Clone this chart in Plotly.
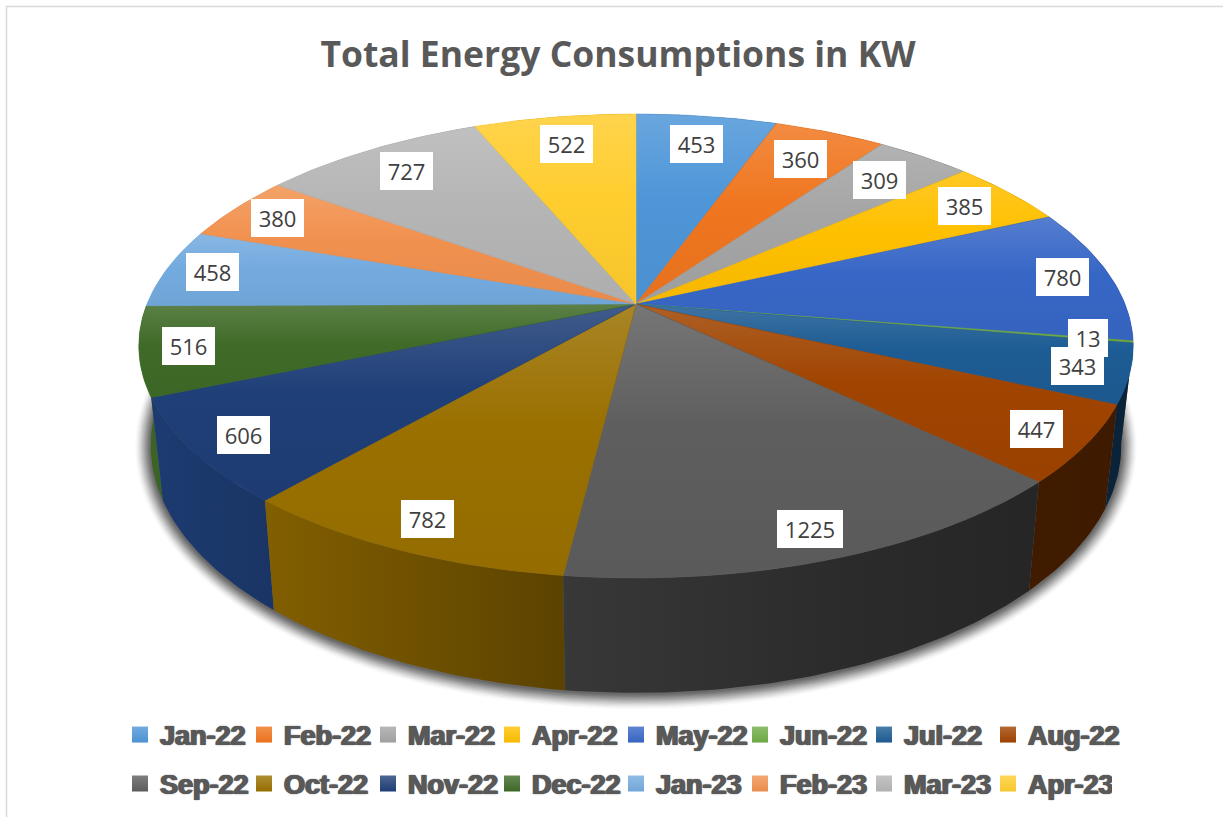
import numpy as np
import plotly.graph_objects as go

months = ["Jan-22", "Feb-22", "Mar-22", "Apr-22", "May-22", "Jun-22", "Jul-22", "Aug-22",
          "Sep-22", "Oct-22", "Nov-22", "Dec-22", "Jan-23", "Feb-23", "Mar-23", "Apr-23"]
consumption = [453, 360, 309, 385, 780, 13, 343, 447, 1225, 782, 606, 516, 458, 380, 727, 522]
colors = ["#4E96D8", "#F0761F", "#A5A5A5", "#FFC000", "#3767C6", "#70AD47", "#1D5C94", "#A04400",
          "#5E5E5E", "#9A7000", "#1F3F78", "#3F6A27", "#74ABDF", "#F1914F", "#B5B5B5", "#FFCD2E"]
label_radius = [.83, .825, .827, .869, .90, .911, .90, .899, .90, .893, .897, .904, .901, .888, .845, .835]
title_text = "Total Energy Consumptions in KW"

# perspective of the pie disc, in axis units (the axes span the page)
CX, CY, A, B, K = 636.0, 304.0, 489.0, 224.4, 0.181
X_SCALE, Y_SCALE, Y_SHIFT = 0.976, 1.065, 77.3
W, H = 1223, 817


def project(theta, r=1.0):
    u, v = r * np.sin(theta), r * np.cos(theta)
    w = 1 + K * v
    return CX + A * u / w, CY - B * v / w


def lower(x, y):
    return CX + X_SCALE * (x - CX), Y_SCALE * y + Y_SHIFT


def rgb(hexcol):
    return np.array([int(hexcol[i:i + 2], 16) for i in (1, 3, 5)], float)


def css(c):
    return "rgb(%d,%d,%d)" % tuple(np.clip(np.round(c), 0, 255))


def mix_white(hexcol, f):
    c = rgb(hexcol)
    return css(c + (255 - c) * f)


total = sum(consumption)
edges = np.cumsum([0] + consumption) / total * 2 * np.pi
fig = go.Figure()

# soft shadow under the disc
t_all = np.linspace(0, 2 * np.pi, 361)
sx, sy = lower(*project(t_all))
bcx, bcy = CX, 0.5 * (sy.min() + sy.max())
for n, d in enumerate(np.arange(16, 0, -1.0)):
    alpha = 0.012 + 0.0075 * n
    px = bcx + (sx - bcx) * (1 + d / 485)
    py = bcy + (sy - bcy) * (1 + d / 250) + 1
    fig.add_trace(go.Scatter(x=px, y=py, mode="lines", line=dict(width=0), fill="toself",
                             fillcolor=f"rgba(40,40,40,{alpha:.3f})", hoverinfo="skip", showlegend=False))

# side walls, rear ones first
shade_x = np.array([138, 270, 560, 850, 1030, 1133], float)
shade_f = np.array([.95, .84, .60, .46, .40, .38])
order = sorted(range(len(months)), key=lambda i: project((edges[i] + edges[i + 1]) / 2)[1])
for i in order:
    t = np.linspace(edges[i], edges[i + 1], max(2, int(np.degrees(edges[i + 1] - edges[i])) + 2))
    tx, ty = project(t)
    bx, by = lower(tx, ty)
    base = rgb(colors[i])
    stops = [[(s - 138) / (1133 - 138), css(base * f)] for s, f in zip(shade_x, shade_f)]
    fig.add_trace(go.Scatter(
        x=np.r_[tx, bx[::-1]], y=np.r_[ty, by[::-1]], mode="lines", line=dict(width=0),
        fill="toself", hoverinfo="skip", showlegend=False,
        fillgradient=dict(type="horizontal", start=138, stop=1133, colorscale=stops)))

# top faces
for i, name in enumerate(months):
    t = np.linspace(edges[i], edges[i + 1], max(2, int(np.degrees(edges[i + 1] - edges[i])) + 2))
    tx, ty = project(t)
    px = np.r_[CX, tx, CX]
    py = np.r_[CY, ty, CY]
    fig.add_trace(go.Scatter(
        x=px, y=py, mode="lines", line=dict(width=0.5, color=colors[i]), fill="toself",
        name=name, showlegend=False, text=f"{name}: {consumption[i]}", hoverinfo="text",
        fillgradient=dict(type="vertical", start=float(py.min()), stop=float(py.max()),
                          colorscale=[[0, mix_white(colors[i], .15)], [.45, colors[i]],
                                      [1, css(rgb(colors[i]) * .96)]])))

# legend entries
for i, name in enumerate(months):
    fig.add_trace(go.Scatter(
        x=[None], y=[None], mode="markers", name=name, legend="legend" if i < 8 else "legend2",
        marker=dict(symbol="square", size=16, color=mix_white(colors[i], .2), line=dict(width=0),
                    gradient=dict(type="vertical", color=css(rgb(colors[i]) * .97)))))

# data labels
for i, val in enumerate(consumption):
    mid = (edges[i] + edges[i + 1]) / 2
    lx, ly = project(mid, label_radius[i])
    fig.add_annotation(x=lx, y=ly, text=str(val), showarrow=False, bgcolor="white", borderpad=0,
                       borderwidth=0, width=13 * len(str(val)) + 14, height=38,
                       font=dict(family="Open Sans", size=22, color="#404040"))

legend_font = dict(family="Liberation Sans", size=27, weight=700, color="#595959",
                   shadow="1px 0 #595959, -1px 0 #595959, 0 0 2px #a0a0a0")
legend_common = dict(orientation="h", xanchor="left", yanchor="middle", bgcolor="rgba(0,0,0,0)",
                     borderwidth=0, itemwidth=30, entrywidth=79, entrywidthmode="pixels",
                     font=legend_font, itemclick=False, itemdoubleclick=False, traceorder="normal")

fig.update_layout(
    width=W, height=H, margin=dict(l=0, r=0, t=0, b=0), paper_bgcolor="white", plot_bgcolor="white",
    title=dict(text=title_text, x=618 / W, xanchor="center", y=1 - 55 / H, yanchor="middle",
               font=dict(family="Open Sans", size=35.5, weight=700, color="#595959")),
    xaxis=dict(range=[0, W], visible=False, fixedrange=True),
    yaxis=dict(range=[H, 0], visible=False, fixedrange=True),
    legend=dict(x=120 / W, y=1 - 735 / H, **legend_common),
    legend2=dict(x=120 / W, y=1 - 784 / H, **legend_common),
    shapes=[dict(type="line", xref="x", yref="y", x0=6.5, x1=6.5, y0=6, y1=H, line=dict(color="#d9d9d9", width=1.5)),
            dict(type="line", xref="x", yref="y", x0=6, x1=W, y0=6.5, y1=6.5, line=dict(color="#d9d9d9", width=1.5))],
)

fig.write_html("out.html", config=dict(displayModeBar=False),
               post_script="document.body.style.margin='0';"
                           "document.querySelectorAll('.legend .scrollbox').forEach(function(e){e.removeAttribute('clip-path');});")
